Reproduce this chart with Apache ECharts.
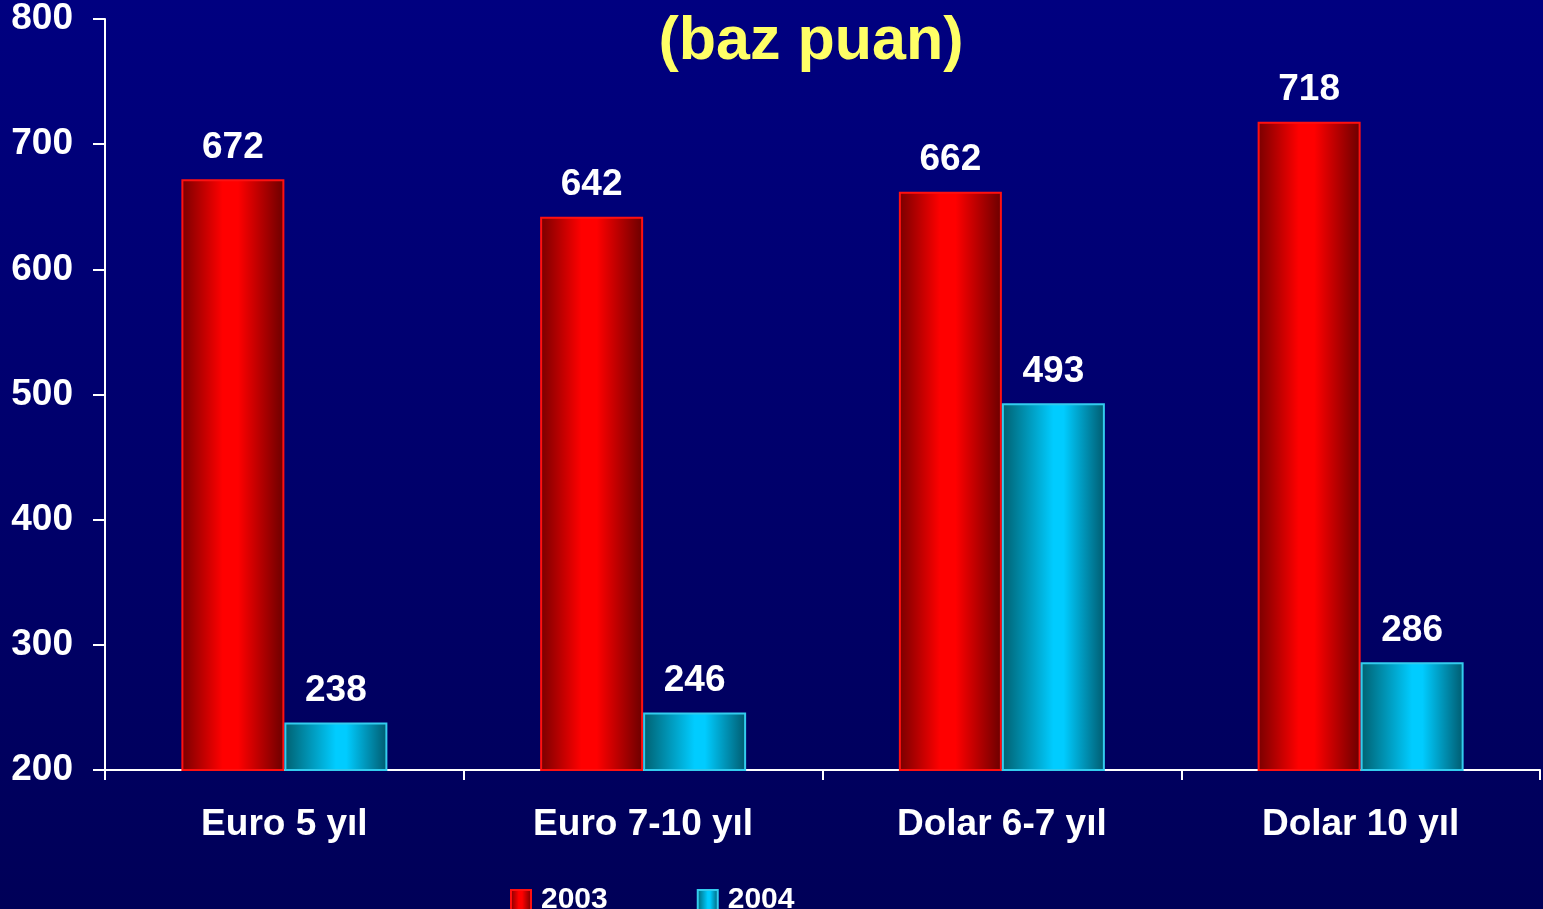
<!DOCTYPE html>
<html>
<head>
<meta charset="utf-8">
<script src="https://cdn.jsdelivr.net/npm/echarts@6/dist/echarts.min.js"></script>
<style>
  html, body { margin: 0; padding: 0; }
  #chart { width: 1543px; height: 909px; }
</style>
</head>
<body>
<div id="chart"></div>
<script>
const categories = ["Euro 5 yıl", "Euro 7-10 yıl", "Dolar 6-7 yıl", "Dolar 10 yıl"];
const values2003 = [672, 642, 662, 718];
const values2004 = [238, 246, 493, 286];
const seriesNames = ["2003", "2004"];

const font = "Liberation Sans, Arial, sans-serif";

const redFill = new echarts.graphic.LinearGradient(0, 0, 1, 0, [
  { offset: 0, color: "#780000" },
  { offset: 0.4, color: "#ff0000" },
  { offset: 0.55, color: "#ff0000" },
  { offset: 1, color: "#6a0000" }
]);
const cyanFill = new echarts.graphic.LinearGradient(0, 0, 1, 0, [
  { offset: 0, color: "#006070" },
  { offset: 0.5, color: "#00ccff" },
  { offset: 0.6, color: "#00ccff" },
  { offset: 1, color: "#005a6e" }
]);

const barLabel = {
  show: true,
  position: "top",
  distance: 13,
  color: "#ffffff",
  fontFamily: font,
  fontWeight: "bold",
  fontSize: 37
};

const chart = echarts.init(document.getElementById("chart"));

chart.setOption({
  backgroundColor: new echarts.graphic.LinearGradient(0, 0, 0, 1, [
    { offset: 0, color: "#000080" },
    { offset: 1, color: "#000058" }
  ]),
  animation: false,
  title: {
    text: "(baz puan)",
    left: 806,
    top: 7,
    textAlign: "center",
    textStyle: {
      color: "#ffff66",
      fontFamily: font,
      fontWeight: "bold",
      fontSize: 61,
      textShadowColor: "#000000",
      textShadowOffsetX: 3,
      textShadowOffsetY: 3,
      textShadowBlur: 0
    }
  },
  legend: {
    data: seriesNames,
    left: 510,
    top: 885,
    padding: 0,
    itemWidth: 20,
    itemHeight: 20,
    itemGap: 89,
    icon: "rect",
    textStyle: {
      color: "#ffffff",
      fontFamily: font,
      fontWeight: "bold",
      fontSize: 30,
      padding: [0, 0, 0, 5]
    }
  },
  grid: {
    left: 105,
    right: 3,
    top: 19,
    bottom: 139,
    containLabel: false
  },
  xAxis: {
    type: "category",
    data: categories,
    axisLine: { lineStyle: { color: "#ffffff", width: 2 } },
    axisTick: { show: true, length: 10, lineStyle: { color: "#ffffff", width: 2 } },
    axisLabel: {
      color: "#ffffff",
      fontFamily: font,
      fontWeight: "bold",
      fontSize: 37,
      margin: 36,
      interval: 0
    },
    splitLine: { show: false }
  },
  yAxis: {
    type: "value",
    min: 200,
    max: 800,
    interval: 100,
    axisLine: { show: true, lineStyle: { color: "#ffffff", width: 2 } },
    axisTick: { show: true, length: 12, lineStyle: { color: "#ffffff", width: 2 } },
    axisLabel: {
      color: "#ffffff",
      fontFamily: font,
      fontWeight: "bold",
      fontSize: 37,
      margin: 32
    },
    splitLine: { show: false }
  },
  series: [
    {
      name: seriesNames[0],
      type: "bar",
      data: values2003,
      barWidth: 103,
      barGap: "0%",
      itemStyle: { color: redFill, borderColor: "#ff1010", borderWidth: 2 },
      label: barLabel
    },
    {
      name: seriesNames[1],
      type: "bar",
      data: values2004,
      barWidth: 103,
      itemStyle: { color: cyanFill, borderColor: "#33ccee", borderWidth: 2 },
      label: barLabel
    }
  ]
});

window.addEventListener("resize", () => chart.resize());
</script>
</body>
</html>
